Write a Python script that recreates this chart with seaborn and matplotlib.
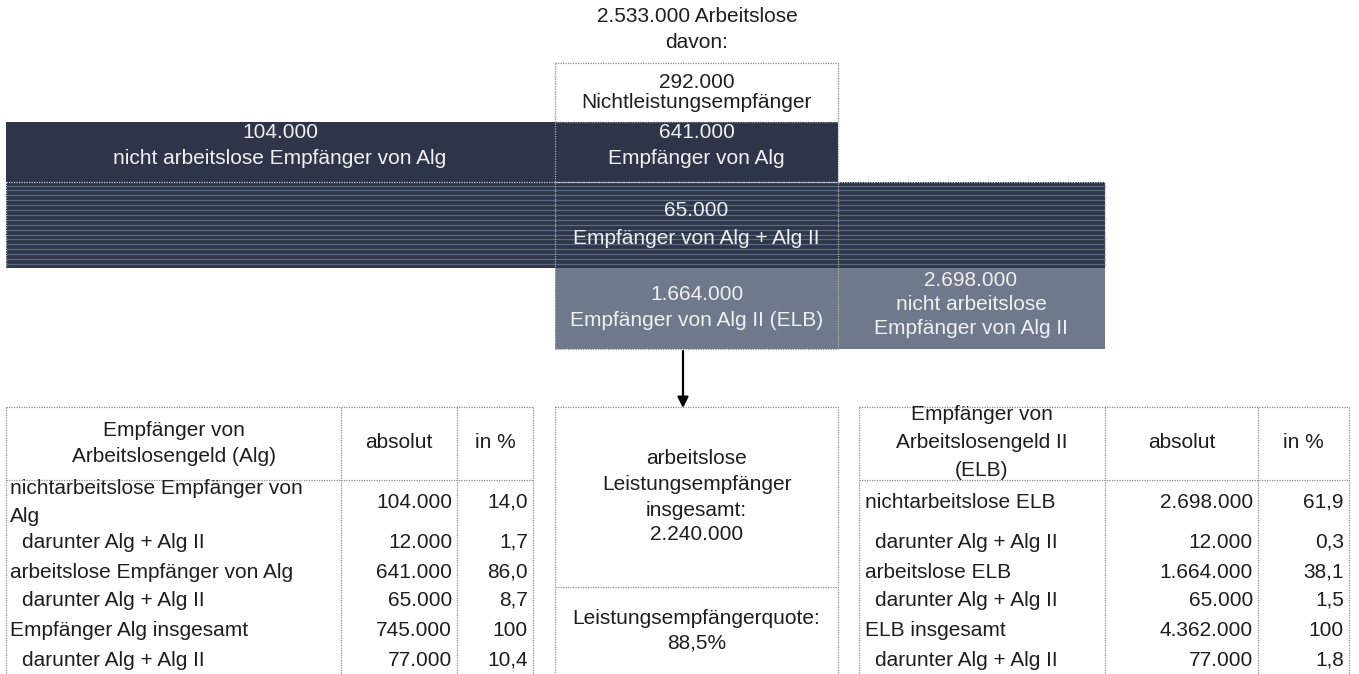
import numpy as np
import matplotlib
matplotlib.use("Agg")
import matplotlib.pyplot as plt
from matplotlib.patches import Rectangle
import seaborn as sns

# ---------------- data ----------------
total_unemployed = "2.533.000"
non_recipients = "292.000"
alg_unemployed = "641.000"
alg_not_unemployed = "104.000"
alg_and_alg2 = "65.000"
elb_unemployed = "1.664.000"
elb_not_unemployed = "2.698.000"
recipients_total = "2.240.000"
recipient_rate = "88,5%"

alg_labels = ["nichtarbeitslose Empfänger von\nAlg", "darunter Alg + Alg II",
              "arbeitslose Empfänger von Alg", "darunter Alg + Alg II",
              "Empfänger Alg insgesamt", "darunter Alg + Alg II"]
alg_abs = ["104.000", "12.000", "641.000", "65.000", "745.000", "77.000"]
alg_pct = ["14,0", "1,7", "86,0", "8,7", "100", "10,4"]

elb_labels = ["nichtarbeitslose ELB", "darunter Alg + Alg II",
              "arbeitslose ELB", "darunter Alg + Alg II",
              "ELB insgesamt", "darunter Alg + Alg II"]
elb_abs = ["2.698.000", "12.000", "1.664.000", "65.000", "4.362.000", "77.000"]
elb_pct = ["61,9", "0,3", "38,1", "1,5", "100", "1,8"]

# ---------------- style ----------------
sns.set_theme(style="white")
plt.rcParams['font.family'] = ['Liberation Sans', 'DejaVu Sans']

DARK = "#2e3549"
GRAY = "#6f798b"
STRIPE = "#5c6780"
TXT = "#1e1e1e"
LIGHT = "#eef0f4"
DOT = "#8c8c8c"
FS = 15

fig = plt.figure(figsize=(13.59, 6.74), dpi=100)
ax = fig.add_axes([0, 0, 1, 1])
ax.set_xlim(0, 1359)
ax.set_ylim(674, 0)
ax.axis("off")

def dotted_rect(x0, y0, x1, y1, color=DOT, lw=0.9):
    ax.add_patch(Rectangle((x0, y0), x1 - x0, y1 - y0, fill=False,
                           edgecolor=color, lw=lw, linestyle=(0, (1, 1)), zorder=5))

def dline(xs, ys, color=DOT, lw=0.9):
    ax.plot(xs, ys, color=color, lw=lw, linestyle=(0, (1, 1)), zorder=5)

def t(x, y, s, color=TXT, ha="center", fs=FS):
    ax.text(x, y, s, color=color, ha=ha, va="center", fontsize=fs, zorder=6)

# ---------------- flow diagram ----------------
CX0, CX1 = 555, 838
t(697, 17, f"{total_unemployed} Arbeitslose")
t(697, 43, "davon:")

# white box
dotted_rect(CX0, 63, CX1, 122)
t((CX0 + CX1) / 2, 82, non_recipients)
t((CX0 + CX1) / 2, 102, "Nichtleistungsempfänger")

# dark band
ax.add_patch(Rectangle((6, 122), CX1 - 6, 60, color=DARK, lw=0, zorder=1))
t(280, 132, alg_not_unemployed, color=LIGHT)
t(280, 158, "nicht arbeitslose Empfänger von Alg", color=LIGHT)
t((CX0 + CX1) / 2, 132, alg_unemployed, color=LIGHT)
t((CX0 + CX1) / 2, 158, "Empfänger von Alg", color=LIGHT)

# striped band
ax.add_patch(Rectangle((6, 182), 1105 - 6, 86, color=DARK, lw=0, zorder=1))
ax.hlines(np.arange(185.5, 268, 4.9), 6, 1105, color=STRIPE, lw=0.9, zorder=2)
dline([6, 1105], [182, 182], color="#c8ccd4")
dline([6, 6], [182, 268], color="#c8ccd4")
dline([1105, 1105], [182, 268], color="#c8ccd4")
t((CX0 + CX1) / 2, 211, alg_and_alg2, color=LIGHT)
t((CX0 + CX1) / 2, 238, "Empfänger von Alg + Alg II", color=LIGHT)

# gray band
ax.add_patch(Rectangle((CX0, 268), 1105 - CX0, 81, color=GRAY, lw=0, zorder=1))
t((CX0 + CX1) / 2, 295, elb_unemployed, color=LIGHT)
t((CX0 + CX1) / 2, 321, "Empfänger von Alg II (ELB)", color=LIGHT)
t(971, 281, elb_not_unemployed, color=LIGHT)
t(971, 304, "nicht arbeitslose", color=LIGHT)
t(971, 328, "Empfänger von Alg II", color=LIGHT)

# centre column dotted outline
dline([CX0, CX0], [63, 349], color="#b0b0b0")
dline([CX1, CX1], [63, 349], color="#b0b0b0")
dline([CX0, CX1], [182, 182], color="#c8ccd4")
dline([CX0, CX1], [349, 349], color="#9a9a9a")

# arrow
ax.annotate("", xy=(683, 408), xytext=(683, 351),
            arrowprops=dict(arrowstyle="-|>", color="black", lw=1.6,
                            mutation_scale=16, shrinkA=0, shrinkB=0))

# ---------------- tables ----------------
row_y = [502, 542, 572, 600, 630, 660]

def table(x0, xc1, xc2, x1, hdr_lines, hdr_ys, labels, absv, pctv, lx, ix):
    dline([x0, x1], [407, 407])
    dline([x0, x1], [480, 480])
    for xx in (x0, xc1, xc2, x1):
        dline([xx, xx], [407, 674])
    for line, yy in zip(hdr_lines, hdr_ys):
        t((x0 + xc1) / 2, yy, line)
    t((xc1 + xc2) / 2, 443, "absolut")
    t((xc2 + x1) / 2, 443, "in %")
    for lab, a, p, yy in zip(labels, absv, pctv, row_y):
        indent = lab.startswith("darunter")
        lines = lab.split("\n")
        if len(lines) == 1:
            t(ix if indent else lx, yy, lab, ha="left")
        else:
            t(lx, yy - 13, lines[0], ha="left")
            t(lx, yy + 14, lines[1], ha="left")
        t(xc2 - 5, yy, a, ha="right")
        t(x1 - 5, yy, p, ha="right")

table(6, 341, 457, 533, ["Empfänger von", "Arbeitslosengeld (Alg)"], [430, 456],
      alg_labels, alg_abs, alg_pct, 10, 22)
table(859, 1105, 1258, 1349, ["Empfänger von", "Arbeitslosengeld II", "(ELB)"],
      [415, 443, 470], elb_labels, elb_abs, elb_pct, 865, 875)

# centre box
dotted_rect(CX0, 407, CX1, 700)
dline([CX0, CX1], [587, 587])
for line, yy in zip(["arbeitslose", "Leistungsempfänger", "insgesamt:", recipients_total],
                    [458, 484, 510, 535]):
    t((CX0 + CX1) / 2, yy, line)
t((CX0 + CX1) / 2, 618, "Leistungsempfängerquote:")
t((CX0 + CX1) / 2, 643, recipient_rate)

fig.savefig("out.png", dpi=100)
